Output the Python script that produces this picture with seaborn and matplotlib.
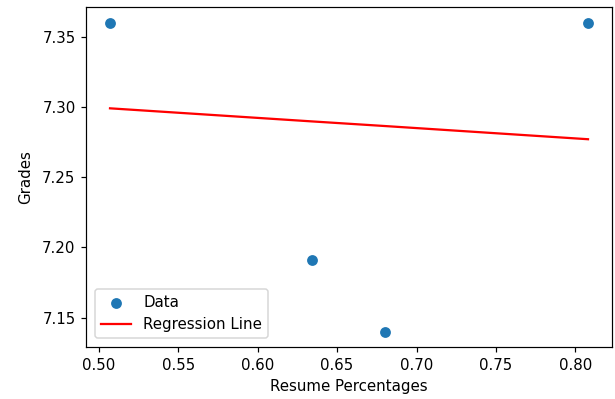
import matplotlib
matplotlib.use("Agg")
import matplotlib.pyplot as plt
import seaborn as sns
import pandas as pd

resume_pct = [0.507, 0.634, 0.680, 0.808]
grades = [7.360, 7.191, 7.140, 7.360]
line_x = [0.507, 0.634, 0.680, 0.808]
line_y = [7.299, 7.2897, 7.2864, 7.277]

df = pd.DataFrame({"x": resume_pct, "y": grades})
dfl = pd.DataFrame({"x": line_x, "y": line_y})

dpi = 108
fig, ax = plt.subplots(figsize=(615 / dpi, 399 / dpi), dpi=dpi)
fig.subplots_adjust(left=0.14, right=0.995, top=0.982, bottom=0.13)

sns.scatterplot(data=df, x="x", y="y", ax=ax, color="#1f77b4", s=52,
                linewidth=0, label="Data")
sns.lineplot(data=dfl, x="x", y="y", ax=ax, color="red", linewidth=1.5,
             label="Regression Line", estimator=None, sort=False)

ax.set_xlabel("Resume Percentages")
ax.set_ylabel("Grades", labelpad=6)
ax.legend(loc="lower left", borderaxespad=0.6)
fig.savefig("out.png", dpi=dpi)
